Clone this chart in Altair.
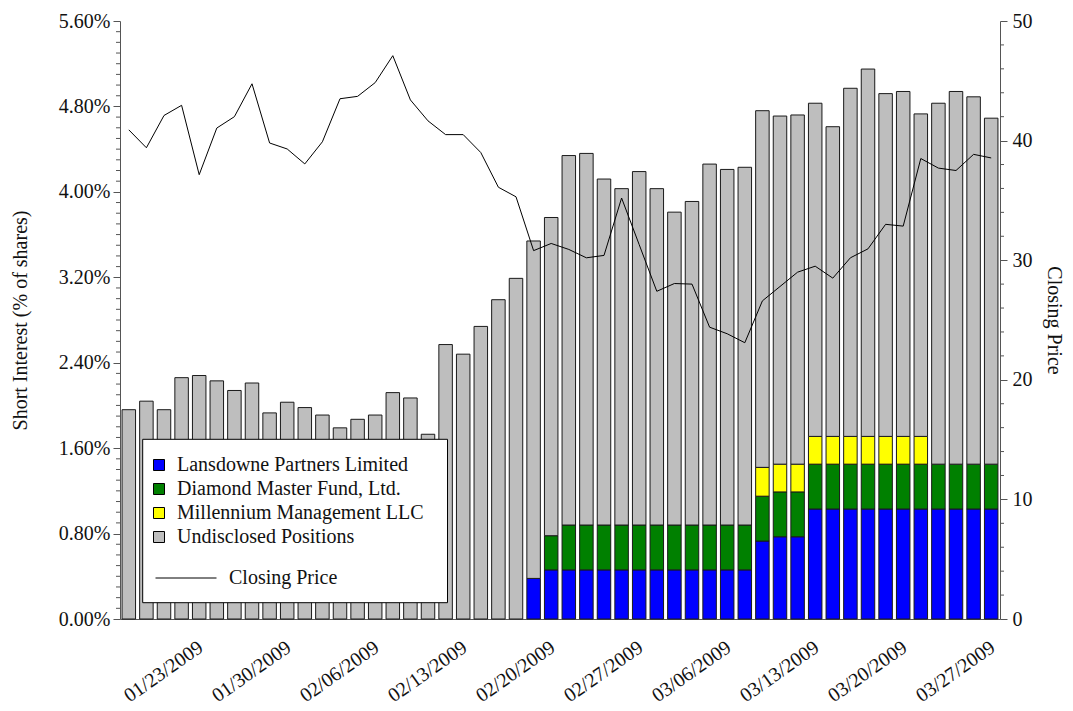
import altair as alt
import pandas as pd

# ---- categories (weekdays, 01/19/2009 .. 03/27/2009) ----
dates = [d.strftime("%m/%d/%Y") for d in pd.bdate_range("2009-01-19", periods=50)]
tick_dates = dates[4::5]

series_names = ["Lansdowne Partners Limited", "Diamond Master Fund, Ltd.",
                "Millennium Management LLC", "Undisclosed Positions"]
series_colors = ["#0000FF", "#008000", "#FFFF00", "#BEBEBE"]

# ---- short interest components (% of shares) ----
lansdowne = [0.0] * 23 + [0.38] + [0.46] * 12 + [0.73, 0.77, 0.77] + [1.03] * 11
diamond = [0.0] * 24 + [0.32] + [0.42] * 25
millennium = [0.0] * 36 + [0.27, 0.26, 0.26] + [0.26] * 7 + [0.0] * 4
undisclosed = [1.96, 2.04, 1.96, 2.26, 2.28, 2.23, 2.14, 2.21, 1.93, 2.03,
               1.98, 1.91, 1.79, 1.87, 1.91, 2.12, 2.07, 1.73, 2.57, 2.48,
               2.74, 2.99, 3.19, 3.16, 2.98, 3.46, 3.48, 3.24, 3.15, 3.31,
               3.15, 2.93, 3.03, 3.38, 3.33, 3.35, 3.34, 3.26, 3.27, 3.12,
               2.90, 3.26, 3.44, 3.21, 3.23, 3.02, 3.38, 3.49, 3.44, 3.24]

# ---- closing price ----
price = [40.9, 39.4, 42.1, 42.95, 37.15, 41.05, 42.0, 44.75, 39.8, 39.3,
         38.05, 39.9, 43.5, 43.7, 44.85, 47.1, 43.4, 41.65, 40.5, 40.5,
         39.0, 36.1, 35.3, 30.8, 31.4, 30.9, 30.2, 30.4, 35.2, 31.3,
         27.4, 28.05, 28.0, 24.4, 23.85, 23.1, 26.6, 27.8, 29.0, 29.5,
         28.5, 30.2, 30.95, 33.0, 32.85, 38.5, 37.7, 37.5, 38.85, 38.55]

pct_ticks = [0, 0.8, 1.6, 2.4, 3.2, 4.0, 4.8, 5.6]
pct_minor = [round(k * 0.1, 2) for k in range(57) if k % 8 != 0]
price_ticks = [0, 10, 20, 30, 40, 50]
price_minor = [k for k in range(0, 51, 2) if k % 10 != 0]

rows = []
for s_idx, (name, vals) in enumerate(zip(series_names,
                                         [lansdowne, diamond, millennium, undisclosed])):
    for d, v in zip(dates, vals):
        if v > 0:
            rows.append({"date": d, "series": name, "value": v, "order": s_idx})
df_bars = pd.DataFrame(rows)
df_price = pd.DataFrame({"date": dates, "price": price, "name": "Closing Price"})

FONT = "Liberation Serif"
AX = "#555555"
TXT = "#111111"

xaxis = alt.Axis(values=tick_dates, labelAngle=-35, labelAlign="right", labelBaseline="top",
                 ticks=False, labelPadding=18, labelOffset=-4, title=None, domainColor=AX,
                 labelFont=FONT, labelFontSize=20, labelColor=TXT)
xenc = alt.X("date:O", sort=dates,
             scale=alt.Scale(paddingInner=0.233, paddingOuter=0.1165), axis=xaxis)

bars = alt.Chart(df_bars).mark_bar(stroke="#1a1a1a", strokeWidth=1).encode(
    x=xenc,
    y=alt.Y("value:Q", stack="zero",
            scale=alt.Scale(domain=[0, 5.6], nice=False),
            axis=alt.Axis(orient="left", values=pct_ticks,
                          labelExpr="format(datum.value, '.2f') + '%'",
                          title="Short Interest (% of shares)", tickSize=7,
                          labelPadding=3, grid=False, domainColor=AX, tickColor=AX,
                          labelFont=FONT, labelFontSize=20, labelColor=TXT,
                          titleFont=FONT, titleFontSize=20, titleFontWeight="normal",
                          titleColor=TXT, titlePadding=28)),
    color=alt.Color("series:N",
                    scale=alt.Scale(domain=series_names, range=series_colors),
                    legend=alt.Legend(orient="none", legendX=29, legendY=434, title=None,
                                      symbolType="square", symbolSize=121,
                                      symbolStrokeColor="black", symbolStrokeWidth=1,
                                      labelFont=FONT, labelFontSize=20, labelColor=TXT,
                                      labelOffset=8, rowPadding=4, labelLimit=400,
                                      padding=0)),
    order=alt.Order("order:Q"),
)

line = alt.Chart(df_price).mark_line(strokeWidth=1).encode(
    x=xenc,
    y=alt.Y("price:Q", scale=alt.Scale(domain=[0, 50], nice=False),
            axis=alt.Axis(orient="right", values=price_ticks, title="Closing Price",
                          tickSize=7, labelPadding=5, grid=False, domainColor=AX,
                          tickColor=AX, labelFont=FONT, labelFontSize=20,
                          labelColor=TXT, titleFont=FONT, titleFontSize=20,
                          titleFontWeight="normal", titleColor=TXT,
                          titlePadding=11)),
    stroke=alt.Stroke("name:N", scale=alt.Scale(domain=["Closing Price"], range=["black"]),
                      legend=alt.Legend(orient="none", legendX=35, legendY=526, title=None,
                                        symbolType="stroke", symbolSize=3721,
                                        symbolStrokeWidth=1, labelFont=FONT,
                                        labelFontSize=20, labelColor=TXT,
                                        labelOffset=12, padding=0, labelLimit=400)),
)

frame = alt.Chart(alt.Data(values=[{"k": 1}])).mark_rect(
    fill="white", stroke="black", strokeWidth=1).encode(
    x=alt.value(22.7), x2=alt.value(327.5), y=alt.value(418.3), y2=alt.value(581.7))

minor_left = alt.Chart(alt.Data(values=[{"v": v} for v in pct_minor])).mark_rule(
    color=AX, strokeWidth=1).encode(
    y=alt.Y("v:Q", scale=alt.Scale(domain=[0, 5.6], nice=False), axis=None),
    x=alt.value(-4), x2=alt.value(0))

minor_right = alt.Chart(alt.Data(values=[{"p": v} for v in price_minor])).mark_rule(
    color=AX, strokeWidth=1).encode(
    y=alt.Y("p:Q", scale=alt.Scale(domain=[0, 50], nice=False), axis=None),
    x=alt.value(880), x2=alt.value(884))

chart = alt.layer(bars, line, frame, minor_left, minor_right).resolve_scale(
    y="independent"
).properties(
    width=880, height=598,
    autosize=alt.AutoSizeParams(type="none"),
    padding={"left": 112, "top": 13, "right": 65, "bottom": 90},
    background="white",
).configure_view(stroke=None)

chart.save("out.html", embed_options={"renderer": "svg", "actions": False})
